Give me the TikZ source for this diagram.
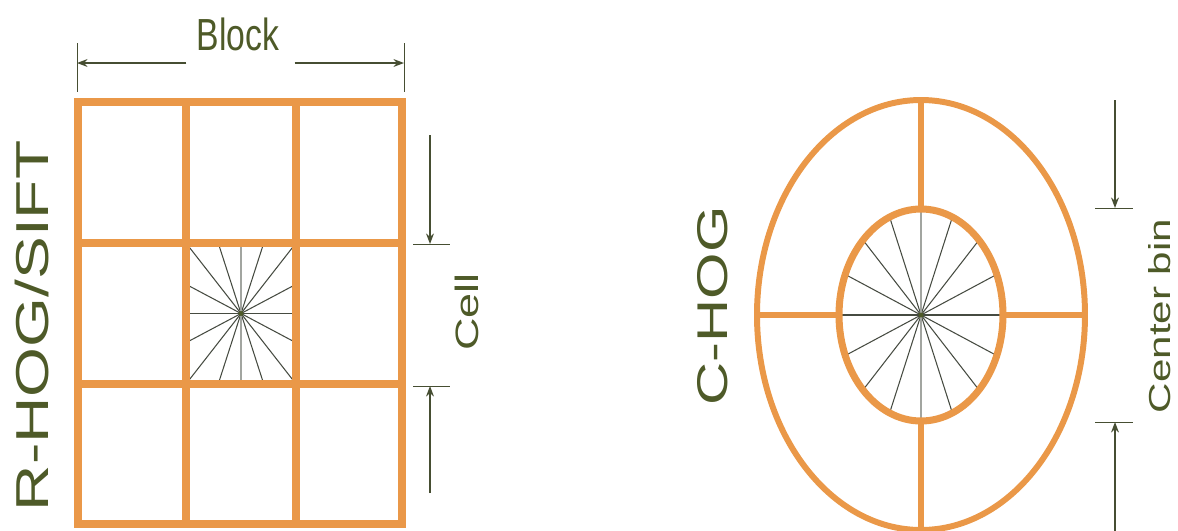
\documentclass[tikz,border=0pt]{standalone}
\usepackage{fontspec}
\setmainfont{Liberation Sans}
\usetikzlibrary{arrows.meta}
\definecolor{hogorange}{RGB}{234,152,72}
\definecolor{hogtext}{RGB}{78,90,40}
\definecolor{hogarrow}{RGB}{70,78,50}
\definecolor{hogray}{RGB}{70,75,65}

\tikzset{
  gridline/.style={hogorange, line width=4.5pt, line cap=rect},
  binline/.style={hogorange, line width=3.6pt},
  ray/.style={hogray, line width=0.6pt},
  vray/.style={hogray!50, line width=0.6pt},
  dimline/.style={hogarrow, line width=0.8pt, -{Stealth[length=6pt,width=4.5pt]}},
  dimtick/.style={hogarrow, line width=0.5pt},
  label/.style={text=hogtext, inner sep=0pt},
}

\begin{document}
\begin{tikzpicture}[x=0.02cm, y=-0.02cm]
    \useasboundingbox (0,0) rectangle (1178,531);

    % ---- R-HOG/SIFT ----
    \coordinate (cellc) at (241,313.5);

    % gradient rays in the centre cell
    \foreach \t in {0,22.5,45,67.5,112.5,135,157.5,180,202.5,225,247.5,292.5,315,337.5} {
        \pgfmathsetmacro\m{max(abs(cos(\t)),abs(sin(\t)))}
        \draw[ray] (cellc) -- ++({55*cos(\t)/\m},{70.5*sin(\t)/\m});
    }
    \draw[vray] (cellc) -- ++(0,70.5);
    \draw[vray] (cellc) -- ++(0,-70.5);
    \fill[hogtext] (cellc) circle (2.5);

    % 3x3 grid of cells
    \foreach \x in {78,186,296,402}
        \draw[gridline] (\x,102) -- (\x,524);
    \foreach \y in {102,243,384,524}
        \draw[gridline] (78,\y) -- (402,\y);

    % Block dimension
    \node[label, font=\fontsize{25.6}{28}\selectfont] (block) at (238,34) {\scalebox{0.75}[1]{Block}};
    \coordinate (blkL) at (77,63);
    \coordinate (blkR) at (404,63);
    \draw[dimtick] (77,43) -- (77,92);
    \draw[dimtick] (404,43) -- (404,92);
    \draw[dimline] (block.west) ++(-10,29) coordinate (blkLs) -- (blkL);
    \draw[dimline] (block.east) ++(15,29) coordinate (blkRs) -- (blkR);

    % Cell dimension
    \coordinate (cellT) at (430,244);
    \coordinate (cellB) at (430,386);
    \draw[dimtick] (413,244) -- (450,244);
    \draw[dimtick] (413,386) -- (450,386);
    \draw[dimline] (430,135) coordinate (cellTs) -- (cellT);
    \draw[dimline] (430,493) coordinate (cellBs) -- (cellB);
    \node[label, rotate=90, font=\fontsize{25.6}{28}\selectfont] (cell) at (467,312) {\scalebox{1}[0.72]{Cell}};

    \node[label, rotate=90, font=\fontsize{36.5}{40}\selectfont] (rhog) at (32,326) {\scalebox{1}[0.72]{R-HOG/SIFT}};

    % ---- C-HOG ----
    \coordinate (hub) at (921,315);

    % gradient rays in the centre bin
    \foreach \t in {0,22.5,45,67.5,112.5,135,157.5,180,202.5,225,247.5,292.5,315,337.5}
        \draw[ray] (hub) -- ++({82*cos(\t)},{106*sin(\t)});
    \draw[vray] (hub) -- ++(0,106);
    \draw[vray] (hub) -- ++(0,-106);
    \fill[hogtext] (hub) circle (2.5);

    % log-polar bins
    \draw[binline, line width=3.4pt] (hub) ellipse [x radius=164, y radius=215];
    \draw[binline, line width=4pt] (hub) ellipse [x radius=82, y radius=106];
    \draw[binline] (921,100) coordinate (outN) -- (921,209) coordinate (inN);
    \draw[binline] (921,421) coordinate (inS) -- (921,530) coordinate (outS);
    \draw[binline] (757,315) coordinate (outW) -- (839,315) coordinate (inW);
    \draw[binline] (1003,315) coordinate (inE) -- (1085,315) coordinate (outE);

    % Center bin dimension
    \coordinate (binT) at (1115,208);
    \coordinate (binB) at (1115,422);
    \draw[dimtick] (1095,208) -- (1133,208);
    \draw[dimtick] (1095,422) -- (1133,422);
    \draw[dimline] (1115,100) coordinate (binTs) -- (binT);
    \draw[dimline] (1115,531) coordinate (binBs) -- (binB);
    \node[label, rotate=90, font=\fontsize{24}{27}\selectfont] (cbin) at (1160,316) {\scalebox{1}[0.72]{Center bin}};

    \node[label, rotate=90, font=\fontsize{34}{37}\selectfont] (chog) at (713,306) {\scalebox{1}[0.72]{C-HOG}};
\end{tikzpicture}
\end{document}
